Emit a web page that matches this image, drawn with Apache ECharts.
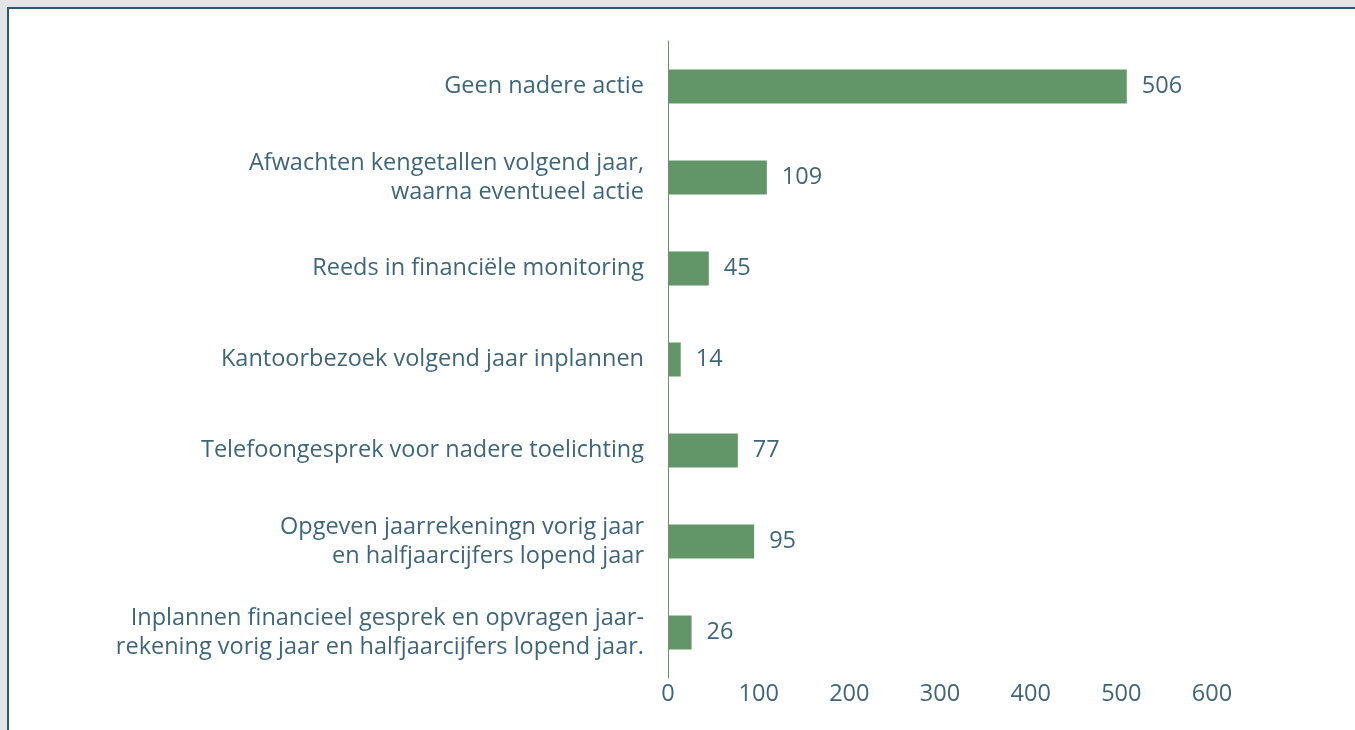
<!DOCTYPE html>
<html>
<head>
<meta charset="utf-8">
<script src="https://cdn.jsdelivr.net/npm/echarts@6/dist/echarts.min.js"></script>
<style>
  html, body { margin: 0; padding: 0; background: #e4e5e6; }
  #panel {
    position: absolute; left: 7px; top: 7px; right: 0; bottom: 0;
    background: #fff;
    border-left: 2px solid #2b5c70; border-top: 2px solid #2b5c70;
  }
  #chart { position: absolute; left: 0; top: 0; width: 1355px; height: 730px; }
</style>
</head>
<body>
<div id="panel"></div>
<div id="chart"></div>
<script>
// categorieën en aantallen (van boven naar beneden)
const categories = [
  "Geen nadere actie",
  "Afwachten kengetallen volgend jaar,\nwaarna eventueel actie",
  "Reeds in financiële monitoring",
  "Kantoorbezoek volgend jaar inplannen",
  "Telefoongesprek voor nadere toelichting",
  "Opgeven jaarrekeningn vorig jaar\nen halfjaarcijfers lopend jaar",
  "Inplannen financieel gesprek en opvragen jaar-\nrekening vorig jaar en halfjaarcijfers lopend jaar."
];
const counts = [506, 109, 45, 14, 77, 95, 26];
const axisMax = 600;
const axisStep = 100;

const TEXT = "#3f6678";
const GREEN = "#629668";
const FONT = "'Open Sans', Lato, sans-serif";
const FS = 23.5;

const chart = echarts.init(document.getElementById("chart"), null, { renderer: "canvas" });
chart.setOption({
  animation: false,
  backgroundColor: "transparent",
  grid: { left: 668, top: 41, width: 544, height: 637, containLabel: false },
  xAxis: {
    type: "value",
    min: 0,
    max: axisMax,
    interval: axisStep,
    axisLine: { show: false },
    axisTick: { show: false },
    splitLine: { show: false },
    axisLabel: { color: TEXT, fontFamily: FONT, fontSize: FS, margin: 4 }
  },
  yAxis: {
    type: "category",
    inverse: true,
    data: categories,
    axisLine: { show: true, lineStyle: { color: GREEN, width: 1 } },
    axisTick: { show: false },
    axisLabel: {
      color: TEXT, fontFamily: FONT, fontSize: FS, lineHeight: 29,
      margin: 24, align: "right"
    }
  },
  series: [{
    type: "bar",
    data: counts,
    barWidth: 34,
    itemStyle: { color: GREEN },
    label: {
      show: true,
      position: "right",
      distance: 15,
      color: TEXT,
      fontFamily: FONT,
      fontSize: FS
    }
  }]
});
</script>
</body>
</html>
